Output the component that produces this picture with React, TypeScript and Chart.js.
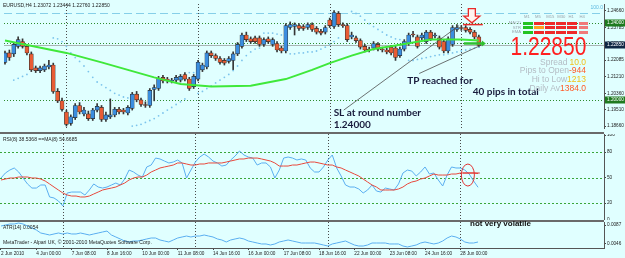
import React, { useEffect, useRef } from 'react';
import { Chart, registerables } from 'chart.js';

Chart.register(...registerables);

// ---------------- data ----------------
const timeLabels = ['2 Jun 2010', '4 Jun 00:00', '7 Jun 08:00', '8 Jun 16:00', '10 Jun 00:00', '11 Jun 08:00', '14 Jun 16:00', '16 Jun 00:00', '17 Jun 08:00', '18 Jun 16:00', '22 Jun 00:00', '23 Jun 08:00', '24 Jun 16:00', '28 Jun 00:00'];
const timeLabelBars = [0, 8, 16, 24, 32, 40, 48, 56, 64, 72, 80, 88, 96, 104];
const weekStartBars = [14, 44, 74, 104];

const opens = [1.2197, 1.2246, 1.2241, 1.2280, 1.2305, 1.2280, 1.2241, 1.2168, 1.2154, 1.2158,
  1.2173, 1.2183, 1.2046, 1.1997, 1.1939, 1.1880, 1.1910, 1.1973, 1.1929, 1.1929,
  1.1905, 1.1949, 1.1963, 1.1900, 1.1914, 1.1924, 1.1953, 1.1949, 1.1934, 1.1958,
  1.2032, 1.2002, 1.1978, 1.1973, 1.2056, 1.2061, 1.2119, 1.2110, 1.2100, 1.2105,
  1.2105, 1.2134, 1.2110, 1.2071, 1.2110, 1.2158, 1.2173, 1.2246, 1.2232, 1.2217,
  1.2207, 1.2202, 1.2207, 1.2241, 1.2280, 1.2339, 1.2319, 1.2324, 1.2324, 1.2290,
  1.2319, 1.2290, 1.2295, 1.2271, 1.2256, 1.2378, 1.2383, 1.2388, 1.2383, 1.2378,
  1.2393, 1.2373, 1.2358, 1.2354, 1.2417, 1.2383, 1.2451, 1.2393, 1.2388, 1.2329,
  1.2324, 1.2310, 1.2280, 1.2266, 1.2271, 1.2290, 1.2266, 1.2261, 1.2276, 1.2271,
  1.2232, 1.2266, 1.2295, 1.2344, 1.2329, 1.2324, 1.2305, 1.2354, 1.2334, 1.2324,
  1.2305, 1.2256, 1.2290, 1.2368, 1.2378, 1.2378, 1.2368, 1.2354, 1.2329];
const closes = [1.2246, 1.2222, 1.2290, 1.2315, 1.2280, 1.2246, 1.2158, 1.2154, 1.2168, 1.2178,
  1.2183, 1.2046, 1.1997, 1.1953, 1.1875, 1.1914, 1.1973, 1.1939, 1.1949, 1.1905,
  1.1949, 1.1968, 1.1900, 1.1924, 1.1924, 1.1953, 1.1939, 1.1939, 1.1963, 1.2032,
  1.2002, 1.1978, 1.1973, 1.2051, 1.2066, 1.2114, 1.2100, 1.2100, 1.2105, 1.2119,
  1.2124, 1.2110, 1.2061, 1.2124, 1.2197, 1.2183, 1.2246, 1.2232, 1.2217, 1.2197,
  1.2193, 1.2217, 1.2241, 1.2290, 1.2339, 1.2315, 1.2305, 1.2305, 1.2290, 1.2315,
  1.2305, 1.2315, 1.2261, 1.2256, 1.2388, 1.2393, 1.2393, 1.2373, 1.2373, 1.2393,
  1.2368, 1.2354, 1.2349, 1.2378, 1.2388, 1.2456, 1.2393, 1.2388, 1.2315, 1.2339,
  1.2310, 1.2276, 1.2261, 1.2261, 1.2295, 1.2266, 1.2261, 1.2251, 1.2246, 1.2222,
  1.2266, 1.2305, 1.2339, 1.2339, 1.2280, 1.2339, 1.2354, 1.2319, 1.2339, 1.2276,
  1.2256, 1.2319, 1.2378, 1.2378, 1.2373, 1.2363, 1.2354, 1.2329, 1.2285];
const highs = [1.2256, 1.2261, 1.2300, 1.2329, 1.2319, 1.2290, 1.2251, 1.2178, 1.2178, 1.2188,
  1.2207, 1.2193, 1.2061, 1.2012, 1.1949, 1.1924, 1.1983, 1.1988, 1.1963, 1.1944,
  1.1958, 1.1983, 1.1973, 1.1939, 1.2007, 1.1963, 1.1963, 1.1958, 1.1973, 1.2041,
  1.2046, 1.2012, 1.1992, 1.2061, 1.2080, 1.2124, 1.2129, 1.2119, 1.2114, 1.2129,
  1.2134, 1.2144, 1.2119, 1.2134, 1.2207, 1.2193, 1.2256, 1.2256, 1.2241, 1.2227,
  1.2217, 1.2227, 1.2251, 1.2300, 1.2349, 1.2354, 1.2329, 1.2334, 1.2334, 1.2324,
  1.2329, 1.2324, 1.2305, 1.2280, 1.2398, 1.2407, 1.2402, 1.2398, 1.2393, 1.2402,
  1.2402, 1.2383, 1.2368, 1.2388, 1.2427, 1.2466, 1.2461, 1.2402, 1.2398, 1.2354,
  1.2334, 1.2319, 1.2290, 1.2276, 1.2305, 1.2300, 1.2276, 1.2271, 1.2285, 1.2280,
  1.2276, 1.2315, 1.2349, 1.2358, 1.2339, 1.2349, 1.2363, 1.2363, 1.2349, 1.2334,
  1.2315, 1.2329, 1.2388, 1.2393, 1.2388, 1.2388, 1.2378, 1.2363, 1.2339];
const lows = [1.2188, 1.2207, 1.2227, 1.2271, 1.2271, 1.2236, 1.2149, 1.2144, 1.2144, 1.2149,
  1.2163, 1.2036, 1.1988, 1.1944, 1.1866, 1.1870, 1.1900, 1.1929, 1.1919, 1.1895,
  1.1895, 1.1939, 1.1890, 1.1890, 1.1905, 1.1914, 1.1929, 1.1929, 1.1924, 1.1949,
  1.1992, 1.1968, 1.1963, 1.1963, 1.1997, 1.2051, 1.2090, 1.2090, 1.2090, 1.2095,
  1.2095, 1.2100, 1.2051, 1.2061, 1.2100, 1.2149, 1.2163, 1.2222, 1.2207, 1.2188,
  1.2183, 1.2193, 1.2158, 1.2232, 1.2271, 1.2305, 1.2295, 1.2295, 1.2280, 1.2280,
  1.2295, 1.2280, 1.2251, 1.2246, 1.2246, 1.2368, 1.2339, 1.2363, 1.2363, 1.2368,
  1.2358, 1.2344, 1.2339, 1.2344, 1.2378, 1.2373, 1.2383, 1.2378, 1.2305, 1.2319,
  1.2300, 1.2266, 1.2251, 1.2251, 1.2261, 1.2256, 1.2251, 1.2241, 1.2236, 1.2207,
  1.2222, 1.2256, 1.2285, 1.2329, 1.2271, 1.2315, 1.2295, 1.2310, 1.2324, 1.2266,
  1.2246, 1.2246, 1.2280, 1.2358, 1.2363, 1.2354, 1.2344, 1.2319, 1.2276];

const maBars = [0, 14, 22, 34, 40, 47, 56, 64, 70, 74, 79, 84, 88, 93, 97, 104, 108];
const maValues = [1.2310, 1.2246, 1.2197, 1.2119, 1.2085, 1.2071, 1.2075, 1.2110, 1.2158, 1.2193, 1.2232, 1.2266, 1.2280, 1.2300, 1.2315, 1.2315, 1.2310];

const sarBars = [2, 3, 4, 5, 11, 12, 13, 14, 15, 16, 17, 18, 19, 20, 21, 22, 23, 24, 25, 26, 27, 28,
  29, 30, 31, 32, 33, 34, 35, 36, 37, 38, 39, 40, 41, 42, 43, 44, 45, 46, 47, 48, 49, 50, 51, 52, 53, 54, 55, 56, 57, 58,
  59, 60, 61, 62, 63, 65, 66, 67, 68, 69, 70, 71, 72, 73, 74, 75, 76,
  79, 80, 81, 82, 83, 84, 85, 86, 87, 88, 89, 90,
  92, 93, 94, 95, 96, 97, 98, 99, 100, 101, 102, 103, 104, 105, 106, 107, 108];
const sarValues = [1.2105, 1.2114, 1.2124, 1.2134, 1.2324, 1.2319, 1.2305, 1.2280, 1.2246, 1.2222, 1.2202, 1.2178, 1.2149, 1.2119, 1.2095, 1.2080, 1.2066, 1.2051, 1.2036, 1.2027, 1.2017, 1.2012,
  1.1866, 1.1870, 1.1875, 1.1885, 1.1895, 1.1905, 1.1919, 1.1934, 1.1949, 1.1963, 1.1978, 1.1992, 1.2007, 1.2144, 1.2144, 1.2036, 1.2046, 1.2061, 1.2075, 1.2090, 1.2105, 1.2119, 1.2134, 1.2154, 1.2178, 1.2207, 1.2232, 1.2251, 1.2266, 1.2271,
  1.2349, 1.2349, 1.2349, 1.2344, 1.2339, 1.2241, 1.2241, 1.2246, 1.2246, 1.2251, 1.2251, 1.2256, 1.2266, 1.2276, 1.2290, 1.2305, 1.2324,
  1.2461, 1.2451, 1.2437, 1.2417, 1.2398, 1.2383, 1.2368, 1.2354, 1.2339, 1.2329, 1.2319, 1.2315,
  1.2207, 1.2207, 1.2212, 1.2217, 1.2222, 1.2227, 1.2232, 1.2236, 1.2236, 1.2241, 1.2246, 1.2251, 1.2256, 1.2261, 1.2266, 1.2271, 1.2276];

const rsiValues = [49.4, 55.3, 58.8, 61.2, 56.5, 49.4, 42.4, 37.6, 37.6, 41.2,
  41.2, 27.1, 25.9, 22.4, 16.5, 31.8, 32.9, 32.9, 32.9, 29.4,
  35.3, 42.4, 38.8, 37.6, 38.8, 41.2, 43.5, 41.2, 48.2, 58.8,
  56.5, 52.9, 50.6, 62.4, 64.7, 72.9, 71.8, 69.4, 67.1, 68.2,
  70.6, 67.1, 49.4, 58.8, 68.2, 74.1, 77.6, 74.1, 69.4, 67.1,
  63.5, 64.7, 70.6, 75.3, 81.2, 76.5, 74.1, 72.9, 64.7, 67.1,
  67.1, 62.4, 49.4, 58.8, 72.9, 74.1, 72.9, 70.6, 71.8, 70.6,
  61.2, 56.5, 56.5, 62.4, 70.6, 76.5, 61.2, 51.8, 41.2, 38.8,
  38.8, 36.5, 31.8, 35.3, 41.2, 34.1, 32.9, 37.6, 36.5, 35.3,
  42.4, 55.3, 58.8, 57.6, 51.8, 56.5, 62.4, 54.1, 55.3, 47.1,
  40.0, 52.9, 62.4, 61.2, 61.2, 58.8, 54.1, 45.9, 38.5];
const rsiMaValues = [47.1, 48.2, 49.4, 49.4, 50.6, 50.6, 50.6, 49.4, 49.4, 48.2,
  45.9, 42.4, 38.8, 35.3, 31.8, 29.4, 28.2, 28.2, 27.1, 27.1,
  28.2, 30.6, 32.9, 35.3, 36.5, 37.6, 38.8, 41.2, 43.5, 47.1,
  49.4, 50.6, 50.6, 52.9, 56.5, 58.8, 61.2, 62.4, 63.5, 64.7,
  67.1, 67.1, 65.9, 64.7, 64.7, 65.9, 65.9, 67.1, 67.1, 67.1,
  67.1, 68.2, 69.4, 70.6, 71.8, 71.8, 72.9, 72.9, 72.9, 71.8,
  70.6, 69.4, 67.1, 63.5, 63.5, 63.5, 64.7, 64.7, 65.9, 67.1,
  68.2, 68.2, 67.1, 65.9, 64.7, 64.7, 62.4, 61.2, 58.8, 56.5,
  54.1, 51.8, 48.2, 44.7, 41.2, 38.8, 35.3, 35.3, 35.3, 35.3,
  36.5, 38.8, 42.4, 44.7, 45.9, 48.2, 49.4, 51.8, 54.1, 52.9,
  52.9, 52.9, 54.1, 54.1, 55.3, 55.3, 55.3, 55.3, 54.7];
const atrValues = [0.00848, 0.00870, 0.00892, 0.00892, 0.00913, 0.00892, 0.00848, 0.00805, 0.00762, 0.00697,
  0.00676, 0.00654, 0.00676, 0.00697, 0.00676, 0.00697, 0.00676, 0.00676, 0.00697, 0.00676,
  0.00654, 0.00676, 0.00697, 0.00719, 0.00740, 0.00654, 0.00611, 0.00568, 0.00524, 0.00503,
  0.00524, 0.00524, 0.00546, 0.00568, 0.00589, 0.00589, 0.00546, 0.00524, 0.00503, 0.00546,
  0.00589, 0.00611, 0.00632, 0.00611, 0.00632, 0.00632, 0.00654, 0.00632, 0.00611, 0.00568,
  0.00546, 0.00503, 0.00546, 0.00568, 0.00589, 0.00568, 0.00524, 0.00503, 0.00481, 0.00460,
  0.00460, 0.00438, 0.00460, 0.00503, 0.00524, 0.00546, 0.00524, 0.00503, 0.00481, 0.00481,
  0.00481, 0.00481, 0.00460, 0.00438, 0.00416, 0.00460, 0.00481, 0.00503, 0.00524, 0.00481,
  0.00438, 0.00416, 0.00416, 0.00438, 0.00481, 0.00481, 0.00481, 0.00481, 0.00460, 0.00460,
  0.00460, 0.00416, 0.00395, 0.00416, 0.00438, 0.00481, 0.00503, 0.00481, 0.00460, 0.00481,
  0.00524, 0.00589, 0.00632, 0.00611, 0.00568, 0.00503, 0.00481, 0.00481, 0.00503];

const priceTicks = [1.24660, 1.23785, 1.22935, 1.22085, 1.21210, 1.20360, 1.19510, 1.18660];
const rsiTicks = [100, 80, 50, 20, 0];
const rsiLevels = [80, 50, 20];
const atrTicks = [0.0087, 0.0046];
const roundLevels = [1.2400, 1.2300, 1.2000];
const fibLevel = 1.2451;
const bidPrice = 1.2285;
const axisBoxValues = [1.2400, 1.2285, 1.2000];
const axisBoxKinds = ['level', 'bid', 'level'];

const notes = [
  { text: 'TP reached for', bar: 91.7, price: 1.2102 },
  { text: '40 pips in total', bar: 106.6, price: 1.2046 },
  { text: 'SL at round number', bar: 74.9, price: 1.1936 },
  { text: '1.24000', bar: 74.9, price: 1.1871 },
];
const trendLines = [
  { b0: 77.2, p0: 1.1949, b1: 103.5, p1: 1.2388 },
  { b0: 94.4, p0: 1.2139, b1: 108.9, p1: 1.2290 },
];

const tfLabels = ['M1', 'M5', 'M15', 'M30', 'H1', 'H4'];
const rowLabels = ['MACD', 'STR', 'EMA'];
const signalGrid = [
  ['up', 'dn', 'dn', 'dn', 'dn', 'weak'],
  ['up', 'mid', 'dn', 'dn', 'dn', 'weak'],
  ['up', 'dn', 'dn', 'dn', 'dn', 'weak'],
];
const statLabels = ['Spread', 'Pips to Open', 'Hi to Low', 'Daily Av'];
const statValues = ['10.0', '-944', '1213', '1384.0'];
const statKinds = ['yellow', 'orange', 'yellow', 'orange'];

// ---------------- layout & style ----------------
const W = 625;
const AXIS_W = 21;
const PLOT_W = W - AXIS_W;
const BAR_PX = 4.417;
const X_MIN = -0.226;
const X_MAX = X_MIN + PLOT_W / BAR_PX;
const MAIN_H = 132;
const RSI_TOP = 134;
const RSI_H = 86;
const ATR_TOP = 222;
const ATR_H = 36;
const X_AXIS_H = 10;
const FONT = '"Liberation Sans", Arial, sans-serif';
const BG = '#e0ffff';
const BULL = '#3b8ee0';
const BEAR = '#e85c34';
const SIG = { up: '#22c322', dn: '#ee2a2a', mid: '#ffa020', weak: '#f07a7a' } as any;
const STAT = { yellow: '#f2c21a', orange: '#ff5a28' } as any;

function hLine(ctx: any, a: any, py: number) {
  ctx.beginPath(); ctx.moveTo(a.left, py); ctx.lineTo(a.right, py); ctx.stroke();
}
function drawSeparators(ctx: any, a: any, x: any) {
  ctx.save();
  ctx.strokeStyle = '#4a4a4a'; ctx.lineWidth = 1; ctx.setLineDash([1, 2]);
  weekStartBars.forEach((b) => {
    const px = Math.round(x.getPixelForValue(b)) + 0.5;
    ctx.beginPath(); ctx.moveTo(px, a.top); ctx.lineTo(px, a.bottom); ctx.stroke();
  });
  ctx.restore();
}

const mainDecor = {
  id: 'mainDecor',
  beforeDatasetsDraw(chart: any) {
    const { ctx, chartArea: a } = chart;
    const y = chart.scales.y;
    ctx.save();
    ctx.beginPath(); ctx.rect(a.left, a.top, a.width, a.height); ctx.clip();
    ctx.lineWidth = 1;
    ctx.strokeStyle = '#86cfe8'; ctx.setLineDash([8, 4]);
    hLine(ctx, a, Math.round(y.getPixelForValue(fibLevel)) + 0.5);
    ctx.strokeStyle = '#2e8b2e'; ctx.setLineDash([1, 2]);
    roundLevels.forEach((v) => hLine(ctx, a, Math.round(y.getPixelForValue(v)) + 0.5));
    ctx.setLineDash([]); ctx.strokeStyle = '#aab4b4';
    hLine(ctx, a, Math.round(y.getPixelForValue(bidPrice)) + 0.5);
    ctx.restore();
    drawSeparators(ctx, a, chart.scales.x);
  },
  afterDatasetsDraw(chart: any) {
    const { ctx, chartArea: a } = chart;
    const x = chart.scales.x, y = chart.scales.y;
    ctx.save();
    ctx.beginPath(); ctx.rect(a.left, a.top, a.width, a.height); ctx.clip();
    // trend lines
    ctx.strokeStyle = '#4d4d4d'; ctx.lineWidth = 0.8;
    trendLines.forEach((t) => {
      ctx.beginPath();
      ctx.moveTo(x.getPixelForValue(t.b0), y.getPixelForValue(t.p0));
      ctx.lineTo(x.getPixelForValue(t.b1), y.getPixelForValue(t.p1));
      ctx.stroke();
    });
    // red down arrow (sell signal)
    const cx = x.getPixelForValue(106.4);
    const top = y.getPixelForValue(1.2476), neck = y.getPixelForValue(1.2437), tip = y.getPixelForValue(1.2402);
    ctx.beginPath();
    ctx.moveTo(cx - 3.5, top); ctx.lineTo(cx + 3.5, top); ctx.lineTo(cx + 3.5, neck);
    ctx.lineTo(cx + 8, neck); ctx.lineTo(cx, tip); ctx.lineTo(cx - 8, neck); ctx.lineTo(cx - 3.5, neck);
    ctx.closePath();
    ctx.fillStyle = '#fff4f0'; ctx.fill();
    ctx.strokeStyle = '#e82a2a'; ctx.lineWidth = 1.3; ctx.stroke();
    ctx.beginPath();
    const ry = y.getPixelForValue(1.2393);
    ctx.moveTo(x.getPixelForValue(104.4), ry); ctx.lineTo(x.getPixelForValue(108.9), ry);
    ctx.lineWidth = 1.5; ctx.stroke();
    // green arrow at last bar
    const gy = y.getPixelForValue(1.2295);
    const gx0 = x.getPixelForValue(104.6), gx1 = x.getPixelForValue(109.6);
    ctx.strokeStyle = '#2fbf2f'; ctx.lineWidth = 2.5;
    ctx.beginPath(); ctx.moveTo(gx0, gy); ctx.lineTo(gx1 - 3, gy); ctx.stroke();
    ctx.fillStyle = '#2fbf2f';
    ctx.beginPath(); ctx.moveTo(gx1, gy); ctx.lineTo(gx1 - 4, gy - 3); ctx.lineTo(gx1 - 4, gy + 3); ctx.closePath(); ctx.fill();
    // notes
    ctx.fillStyle = '#181b3c';
    ctx.font = 'bold 10px Lato, "Open Sans", sans-serif';
    ctx.textBaseline = 'middle'; ctx.textAlign = 'left';
    notes.forEach((n) => ctx.fillText(n.text, x.getPixelForValue(n.bar), y.getPixelForValue(n.price)));
    ctx.restore();
  },
  afterDraw(chart: any) {
    const { ctx, chartArea: a } = chart;
    const y = chart.scales.y;
    ctx.save();
    axisBoxValues.forEach((v, k) => {
      const py = Math.round(y.getPixelForValue(v));
      ctx.fillStyle = axisBoxKinds[k] === 'bid' ? '#0f2744' : '#1f7a1f';
      ctx.fillRect(a.right + 1, py - 3.5, AXIS_W - 1, 7);
      ctx.fillStyle = '#ffffff';
      ctx.font = `4.7px ${FONT}`;
      ctx.textBaseline = 'middle'; ctx.textAlign = 'left';
      ctx.fillText(v.toFixed(5), a.right + 3, py);
    });
    ctx.restore();
  },
};

const rsiDecor = {
  id: 'rsiDecor',
  beforeDatasetsDraw(chart: any) {
    const { ctx, chartArea: a } = chart;
    const y = chart.scales.y;
    ctx.save();
    ctx.strokeStyle = '#3aa63a'; ctx.lineWidth = 1; ctx.setLineDash([2, 2]);
    rsiLevels.forEach((v) => hLine(ctx, a, Math.round(y.getPixelForValue(v)) + 0.5));
    ctx.restore();
    drawSeparators(ctx, a, chart.scales.x);
  },
  afterDatasetsDraw(chart: any) {
    const { ctx } = chart;
    const x = chart.scales.x, y = chart.scales.y;
    ctx.save();
    ctx.strokeStyle = '#e03030'; ctx.lineWidth = 1;
    ctx.beginPath();
    ctx.ellipse(x.getPixelForValue(105.7), y.getPixelForValue(52.9), 6.5, 11, 0, 0, Math.PI * 2);
    ctx.stroke();
    const cy = y.getPixelForValue(55.3);
    ctx.beginPath(); ctx.moveTo(x.getPixelForValue(104.6), cy); ctx.lineTo(x.getPixelForValue(108.4), cy); ctx.stroke();
    ctx.restore();
  },
};

const atrDecor = {
  id: 'atrDecor',
  beforeDatasetsDraw(chart: any) {
    drawSeparators(chart.ctx, chart.chartArea, chart.scales.x);
  },
};

function hiddenX() {
  return { type: 'linear', min: X_MIN, max: X_MAX, offset: false, display: false, grid: { display: false } };
}
function timeX() {
  return {
    type: 'linear', min: X_MIN, max: X_MAX, offset: false, display: true,
    grid: { drawOnChartArea: false, tickLength: 2, color: '#444', offset: false },
    border: { display: true, color: '#555' },
    ticks: {
      autoSkip: false, maxRotation: 0, minRotation: 0, align: 'start', padding: 1, color: '#222',
      font: { size: 4.7, family: FONT },
      callback: (v: any) => { const k = timeLabelBars.indexOf(Number(v)); return k >= 0 ? timeLabels[k] : ''; },
    },
    afterBuildTicks: (ax: any) => { ax.ticks = timeLabelBars.map((v) => ({ value: v })); },
    afterFit: (ax: any) => { ax.height = X_AXIS_H; ax.paddingLeft = 0; ax.paddingRight = 0; },
  };
}
function rightY(min: number, max: number, ticks: number[], decimals: number) {
  return {
    type: 'linear', position: 'right', min, max,
    grid: { drawOnChartArea: false, tickLength: 2, color: '#444' },
    border: { display: true, color: '#555' },
    ticks: { padding: 1, color: '#222', font: { size: 4.7, family: FONT }, callback: (v: any) => Number(v).toFixed(decimals) },
    afterBuildTicks: (ax: any) => { ax.ticks = ticks.map((v) => ({ value: v })); },
    afterFit: (ax: any) => { ax.width = AXIS_W; ax.paddingTop = 0; ax.paddingBottom = 0; },
  };
}
const baseOptions = {
  responsive: false,
  animation: false,
  events: [],
  layout: { padding: 0 },
  plugins: { legend: { display: false }, tooltip: { enabled: false } },
};

function mainConfig(): any {
  return {
    type: 'bar',
    data: {
      datasets: [
        {
          type: 'bar', data: lows.map((l, i) => ({ x: i, y: [l, highs[i]] })),
          backgroundColor: '#363636', barThickness: 1, grouped: false, order: 4,
        },
        {
          type: 'bar', data: opens.map((o, i) => ({ x: i, y: [o, closes[i]] })),
          backgroundColor: (c: any) => (closes[c.dataIndex] >= opens[c.dataIndex] ? BULL : BEAR),
          borderColor: '#2c2c2c', borderWidth: 0.6, borderSkipped: false, barThickness: 4, grouped: false, order: 3,
        },
        {
          type: 'scatter', data: sarBars.map((b, k) => ({ x: b, y: sarValues[k] })),
          pointRadius: 0.9, backgroundColor: '#7cc4ec', borderWidth: 0, order: 2,
        },
        {
          type: 'line', data: maBars.map((b, k) => ({ x: b, y: maValues[k] })),
          borderColor: '#3fe83a', borderWidth: 2, pointRadius: 0, tension: 0, order: 1,
        },
      ],
    },
    options: {
      ...baseOptions,
      scales: { x: hiddenX(), y: rightY(1.1856, 1.2500, priceTicks, 5) },
    },
    plugins: [mainDecor],
  };
}
function rsiConfig(): any {
  return {
    type: 'line',
    data: {
      datasets: [
        { data: rsiMaValues.map((v, i) => ({ x: i, y: v })), borderColor: '#e8483c', borderWidth: 1, pointRadius: 0 },
        { data: rsiValues.map((v, i) => ({ x: i, y: v })), borderColor: '#5aaef0', borderWidth: 1, pointRadius: 0 },
      ],
    },
    options: { ...baseOptions, scales: { x: hiddenX(), y: rightY(0, 101.2, rsiTicks, 0) } },
    plugins: [rsiDecor],
  };
}
function atrConfig(): any {
  return {
    type: 'line',
    data: {
      datasets: [
        { data: atrValues.map((v, i) => ({ x: i, y: v })), borderColor: '#5aaef0', borderWidth: 1, pointRadius: 0 },
      ],
    },
    options: { ...baseOptions, scales: { x: timeX(), y: rightY(0.00373, 0.00935, atrTicks, 4) } },
    plugins: [atrDecor],
  };
}

function Txt(props: any) {
  const { x, y, size, color, align, bold, family, children, extra } = props;
  const style: any = {
    position: 'absolute', top: y, fontSize: size, lineHeight: 1, color: color || '#222', whiteSpace: 'nowrap',
    transform: 'translateY(-50%)', fontWeight: bold ? 700 : 400, fontFamily: family || FONT, ...(extra || {}),
  };
  if (align === 'right') style.right = W - x; else style.left = x;
  return <div style={style}>{children}</div>;
}

export default function App() {
  const mainRef = useRef<HTMLCanvasElement>(null);
  const rsiRef = useRef<HTMLCanvasElement>(null);
  const atrRef = useRef<HTMLCanvasElement>(null);

  useEffect(() => {
    const charts = [
      new Chart(mainRef.current as any, mainConfig()),
      new Chart(rsiRef.current as any, rsiConfig()),
      new Chart(atrRef.current as any, atrConfig()),
    ];
    return () => charts.forEach((c) => c.destroy());
  }, []);

  const colX0 = 523, colPitch = 11.1, rowY0 = 21.5, rowPitch = 4.5;

  return (
    <div style={{ position: 'absolute', left: 0, top: 0, width: W, height: 258, background: BG, overflow: 'hidden', fontFamily: FONT }}>
      <canvas ref={mainRef} width={W} height={MAIN_H} style={{ position: 'absolute', left: 0, top: 0 }} />
      <div style={{ position: 'absolute', left: 0, top: MAIN_H, width: PLOT_W, height: 2, background: '#6a6a6a' }} />
      <canvas ref={rsiRef} width={W} height={RSI_H} style={{ position: 'absolute', left: 0, top: RSI_TOP }} />
      <div style={{ position: 'absolute', left: 0, top: RSI_TOP + RSI_H, width: PLOT_W, height: 2, background: '#6a6a6a' }} />
      <canvas ref={atrRef} width={W} height={ATR_H} style={{ position: 'absolute', left: 0, top: ATR_TOP }} />

      <Txt x={3} y={5} size={5}>EURUSD,H4  1.23072 1.23444 1.22760 1.22850</Txt>
      <Txt x={603} y={7} size={5} color="#5bb8e0" align="right">100.0</Txt>

      {tfLabels.map((t, c) => (
        <Txt key={t} x={colX0 + c * colPitch + 1} y={16.5} size={4.2} color="#9aa4ac">{t}</Txt>
      ))}
      {rowLabels.map((r, k) => (
        <Txt key={r} x={521} y={rowY0 + k * rowPitch + 1.5} size={4.2} color="#9aa4ac" align="right">{r}</Txt>
      ))}
      {signalGrid.map((row, k) => row.map((s, c) => (
        <div key={`${k}-${c}`} style={{ position: 'absolute', left: colX0 + c * colPitch, top: rowY0 + k * rowPitch, width: 9.5, height: 3, background: SIG[s] }} />
      )))}

      <Txt x={586} y={46} size={25} color="#ff2020" align="right" extra={{ transform: 'translateY(-50%) scaleX(0.84)', transformOrigin: 'right center' }}>1.22850</Txt>
      {statLabels.map((l, k) => (
        <Txt key={l} x={586} y={61.5 + k * 8.7} size={8.5} color="#b4bcc4" align="right">
          {l}<span style={{ color: STAT[statKinds[k]], marginLeft: k === 0 ? 2 : 0 }}>{statValues[k]}</span>
        </Txt>
      ))}

      <Txt x={3} y={139} size={5}>RSI(8) 38.5368  ==MA(8) 54.6685</Txt>
      <Txt x={3} y={226.5} size={5}>ATR(14) 0.0054</Txt>
      <Txt x={3} y={243} size={5.1}>MetaTrader - Alpari UK, © 2001-2010 MetaQuotes Software Corp.</Txt>
      <Txt x={470} y={223.5} size={8} bold color="#111">not very volatile</Txt>
    </div>
  );
}
